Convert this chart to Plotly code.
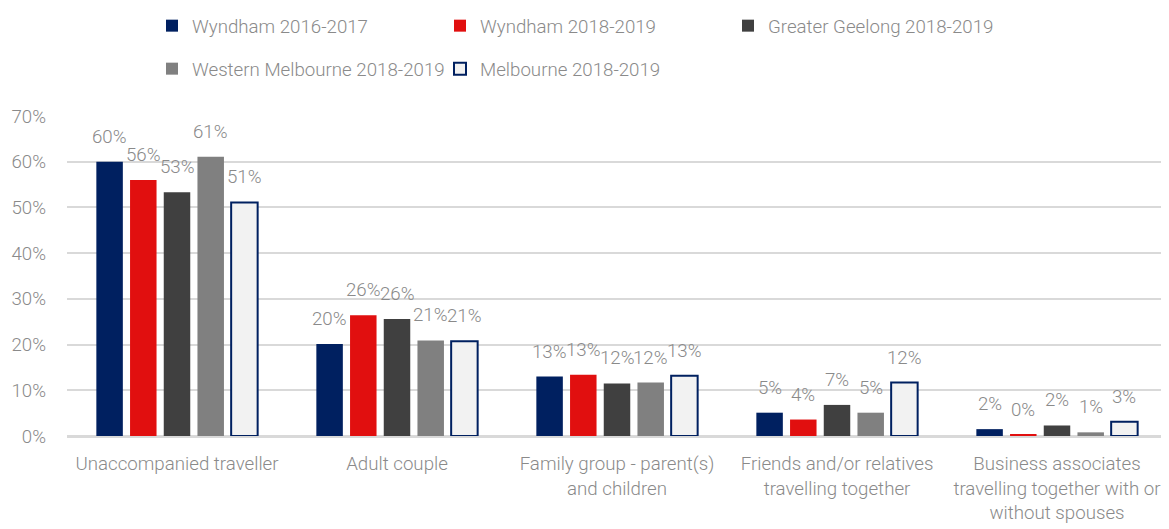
import plotly.graph_objects as go

categories = [
    "Unaccompanied traveller",
    "Adult couple",
    "Family group - parent(s)<br>and children",
    "Friends and/or relatives<br>travelling together",
    "Business associates<br>travelling together with or<br>without spouses",
]
series_names = [
    "Wyndham 2016-2017",
    "Wyndham 2018-2019",
    "Greater Geelong 2018-2019",
    "Western Melbourne 2018-2019",
    "Melbourne 2018-2019",
]
wyndham_1617 = [60.0, 20.1, 13.0, 5.1, 1.5]
wyndham_1819 = [56.0, 26.4, 13.4, 3.6, 0.3]
geelong_1819 = [53.3, 25.6, 11.5, 6.8, 2.3]
western_melb_1819 = [61.1, 20.9, 11.7, 5.1, 0.8]
melbourne_1819 = [51.1, 20.7, 13.2, 11.7, 3.1]
y_ticks = [0, 10, 20, 30, 40, 50, 60, 70]
y_tick_labels = ["0%", "10%", "20%", "30%", "40%", "50%", "60%", "70%"]

all_values = [wyndham_1617, wyndham_1819, geelong_1819, western_melb_1819, melbourne_1819]
fills = ["#002060", "#E10F0F", "#404040", "#808080", "#F2F2F2"]
lines = ["#002060", "#E10F0F", "#404040", "#808080", "#002060"]
line_w = [0, 0, 0, 0, 2]
legend_ids = ["legend", "legend", "legend", "legend2", "legend2"]

FONT = "Roboto, 'Open Sans', sans-serif"
TXT = "#8a8a8a"

# the page body has an 8px margin, so the figure is 8px smaller than the window
W, H = 1161, 521

fig = go.Figure()
for name, vals, fc, lc, lw, lg in zip(series_names, all_values, fills, lines, line_w, legend_ids):
    fig.add_trace(go.Bar(
        name=name, x=categories, y=vals,
        marker=dict(color=fc, line=dict(color=lc, width=lw)),
        legend=lg, hoverinfo="skip",
    ))

# data labels above bars
step_px = 33.7
for i, vals in enumerate(all_values):
    for c, v in zip(categories, vals):
        fig.add_annotation(
            x=c, y=v, text=f"{round(v):d}%", showarrow=False,
            xshift=(i - 2) * step_px, yshift=25, yanchor="middle",
            font=dict(family=FONT, size=18.7, color=TXT, weight=300),
        )

fig.update_layout(
    width=W, height=H,
    margin=dict(l=59, r=2, t=108, b=93, autoexpand=False),
    paper_bgcolor="white", plot_bgcolor="white",
    barmode="group", bargap=0.234, bargroupgap=0.214,
    font=dict(family=FONT, size=18.7, color=TXT, weight=300),
    legend=dict(
        orientation="h", xref="container", yref="container",
        x=144 / W, y=1 - 18 / H, xanchor="left", yanchor="middle",
        entrywidth=243, entrywidthmode="pixels",
        font=dict(family=FONT, size=18.7, color=TXT, weight=300),
        bgcolor="rgba(0,0,0,0)",
    ),
    legend2=dict(
        orientation="h", xref="container", yref="container",
        x=144 / W, y=1 - 61 / H, xanchor="left", yanchor="middle",
        entrywidth=243, entrywidthmode="pixels",
        font=dict(family=FONT, size=18.7, color=TXT, weight=300),
        bgcolor="rgba(0,0,0,0)",
    ),
    xaxis=dict(
        showgrid=False, showline=True, linecolor="#D9D9D9", linewidth=1.5,
        ticks="", tickfont=dict(family=FONT, size=18.7, color=TXT, weight=300),
        ticklabelstandoff=10, automargin=False,
    ),
    yaxis=dict(
        range=[0, 70], tickvals=y_ticks, ticktext=y_tick_labels,
        showgrid=True, gridcolor="#D9D9D9", gridwidth=1.5,
        zeroline=True, zerolinecolor="#D9D9D9", zerolinewidth=1.5,
        showline=False, ticks="", automargin=False,
        tickfont=dict(family=FONT, size=18.7, color=TXT, weight=300),
        ticklabelstandoff=20,
    ),
)

fig.write_html("out.html")
